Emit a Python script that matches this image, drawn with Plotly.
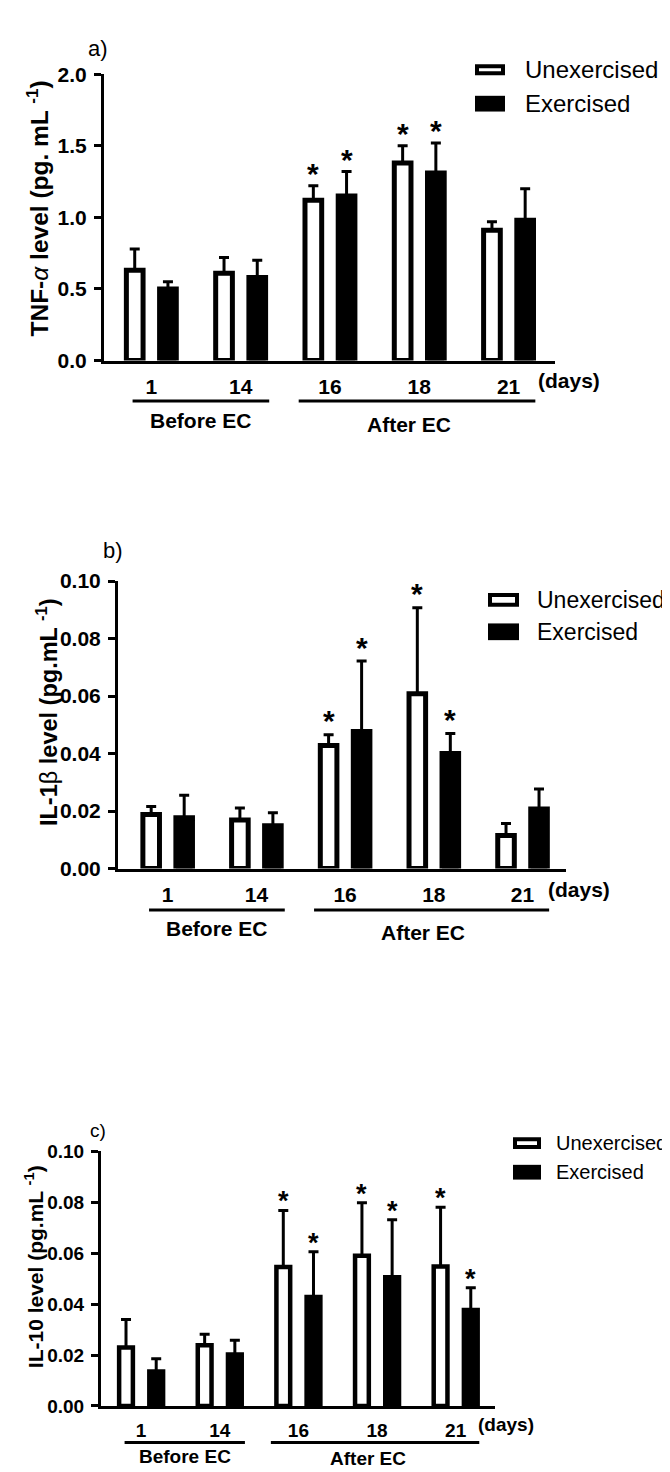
import plotly.graph_objects as go

# ---------------- data ----------------
days = ["1", "14", "16", "18", "21"]

tnf_unex = [0.63, 0.61, 1.12, 1.38, 0.91]
tnf_unex_sd = [0.15, 0.11, 0.10, 0.12, 0.06]
tnf_ex = [0.50, 0.58, 1.15, 1.31, 0.98]
tnf_ex_sd = [0.05, 0.12, 0.17, 0.21, 0.22]
tnf_unex_sig = [0, 0, 1, 1, 0]
tnf_ex_sig = [0, 0, 1, 1, 0]

il1b_unex = [0.0188, 0.0169, 0.0428, 0.0608, 0.0115]
il1b_unex_sd = [0.0028, 0.0042, 0.0037, 0.0299, 0.0042]
il1b_ex = [0.0177, 0.0149, 0.0477, 0.0400, 0.0207]
il1b_ex_sd = [0.0078, 0.0045, 0.0245, 0.0070, 0.0070]
il1b_unex_sig = [0, 0, 1, 1, 0]
il1b_ex_sig = [0, 0, 1, 1, 0]

il10_unex = [0.0229, 0.0238, 0.0545, 0.0589, 0.0547]
il10_unex_sd = [0.0110, 0.0043, 0.0222, 0.0208, 0.0233]
il10_ex = [0.0135, 0.0202, 0.0428, 0.0505, 0.0377]
il10_ex_sd = [0.0050, 0.0056, 0.0177, 0.0226, 0.0087]
il10_unex_sig = [0, 0, 1, 1, 1]
il10_ex_sig = [0, 0, 1, 1, 1]

series_names = ["Unexercised", "Exercised"]
period_labels = ["Before EC", "After EC"]
period_spans = [(-0.21, 1.32), (1.65, 4.30)]
period_label_x = [0.56, 2.88]

# ---------------- layout helpers ----------------
W, H = 670, 1472
FONT = "Liberation Sans, Arial, sans-serif"


def px_x(p):
    return p / W


def px_y(p):
    return 1 - p / H


panels = [
    dict(tag="a)", unex=tnf_unex, unex_sd=tnf_unex_sd, ex=tnf_ex, ex_sd=tnf_ex_sd,
         unex_sig=tnf_unex_sig, ex_sig=tnf_ex_sig,
         ytitle="<b>TNF-</b><i>α</i><b> level (pg. mL <sup>-1</sup>)</b>",
         yrange=[0, 2.0], dtick=0.5, fmt=".1f",
         left=96, right=547, top=55, bottom=346, xrange=[-0.53, 4.52],
         fs=21, tfs=24.5, lfs=24, tagfs=22, sfs=30, bw=0.187, off=0.186, lw=5, star_shift=12,
         tag_xy=(90, 29), title_xy=(28.5, 192),
         leg_x=467, leg_w=30, leg_u=(45, 56), leg_e=(77, 93), leg_tx=515, leg_ty=(50, 85),
         days_xy=(561, 366), line_y=387, lab_y=(407, 411)),
    dict(tag="b)", unex=il1b_unex, unex_sd=il1b_unex_sd, ex=il1b_ex, ex_sd=il1b_ex_sd,
         unex_sig=il1b_unex_sig, ex_sig=il1b_ex_sig,
         ytitle="<b>IL-1</b>β<b> level (pg.mL <sup>-1</sup>)</b>",
         yrange=[0, 0.10], dtick=0.02, fmt=".2f",
         left=110, right=558, top=570, bottom=862, xrange=[-0.56, 4.49],
         fs=21, tfs=23.5, lfs=23, tagfs=22, sfs=30, bw=0.187, off=0.186, lw=5, star_shift=14,
         tag_xy=(105, 539), title_xy=(39, 703),
         leg_x=480, leg_w=31, leg_u=(582, 596), leg_e=(613, 630), leg_tx=527, leg_ty=(589, 622),
         days_xy=(571, 883), line_y=904, lab_y=(923, 927)),
    dict(tag="c)", unex=il10_unex, unex_sd=il10_unex_sd, ex=il10_ex, ex_sd=il10_ex_sd,
         unex_sig=il10_unex_sig, ex_sig=il10_ex_sig,
         ytitle="<b>IL-10 level (pg.mL <sup>-1</sup>)</b>",
         yrange=[0, 0.10], dtick=0.02, fmt=".2f",
         left=93, right=487, top=1149, bottom=1408, xrange=[-0.51, 4.50],
         fs=19, tfs=21, lfs=20, tagfs=19, sfs=27, bw=0.175, off=0.192, lw=4.5, star_shift=9,
         tag_xy=(90, 1128), title_xy=(26, 1267),
         leg_x=505, leg_w=28, leg_u=(1135, 1147), leg_e=(1163, 1178), leg_tx=546, leg_ty=(1141, 1170),
         days_xy=(498, 1427), line_y=1445, lab_y=(1459, 1461)),
]

fig = go.Figure()
shapes = []
annotations = []
xs = list(range(len(days)))

for i, p in enumerate(panels):
    n = "" if i == 0 else str(i + 1)
    xref, yref = "x" + n, "y" + n
    bw, off, lw = p["bw"], p["off"], p["lw"]

    for name, vals, sd, sig, color, sign in [
        (series_names[0], p["unex"], p["unex_sd"], p["unex_sig"], "white", -1),
        (series_names[1], p["ex"], p["ex_sd"], p["ex_sig"], "black", 1),
    ]:
        fig.add_trace(go.Bar(
            x=xs, y=vals, name=name, xaxis=xref, yaxis=yref,
            width=bw, offset=sign * off - bw / 2,
            marker=dict(color=color, line=dict(color="black", width=lw)),
            error_y=dict(type="data", symmetric=False, array=sd, arrayminus=[0] * len(vals),
                         color="black", thickness=3, width=5),
            showlegend=False,
        ))
        for k in xs:
            if sig[k]:
                annotations.append(dict(
                    x=k + sign * off, y=vals[k] + sd[k], xref=xref, yref=yref,
                    text="<b>*</b>", showarrow=False, yanchor="middle", xanchor="center",
                    yshift=p["star_shift"], font=dict(family=FONT, size=p["sfs"], color="black")))

    axis_common = dict(showgrid=False, zeroline=False, showline=True, linecolor="black",
                       linewidth=3)
    fig.update_layout(**{
        ("xaxis" + n): dict(domain=[px_x(p["left"]), px_x(p["right"])], anchor=yref,
                            range=p["xrange"], tickvals=xs, ticktext=days, ticks="",
                            ticklabelstandoff=5,
                            tickfont=dict(family=FONT, size=p["fs"], color="black", weight="bold"),
                            **axis_common),
        ("yaxis" + n): dict(domain=[px_y(p["bottom"]), px_y(p["top"])], anchor=xref,
                            range=p["yrange"], dtick=p["dtick"], tickformat=p["fmt"],
                            ticks="outside", ticklen=7, tickwidth=3, tickcolor="black",
                            ticklabelstandoff=3,
                            tickfont=dict(family=FONT, size=p["fs"], color="black", weight="bold"),
                            **axis_common),
    })

    # panel tag
    annotations.append(dict(x=px_x(p["tag_xy"][0]), y=px_y(p["tag_xy"][1]), xref="paper", yref="paper",
                            text=p["tag"], showarrow=False, xanchor="center", yanchor="middle",
                            font=dict(family=FONT, size=p["tagfs"], color="black")))
    # y title
    annotations.append(dict(x=px_x(p["title_xy"][0]), y=px_y(p["title_xy"][1]), xref="paper", yref="paper",
                            text=p["ytitle"], showarrow=False, textangle=-90,
                            xanchor="center", yanchor="middle",
                            font=dict(family=FONT, size=p["tfs"], color="black")))
    # (days)
    annotations.append(dict(x=px_x(p["days_xy"][0]), y=px_y(p["days_xy"][1]), xref="paper", yref="paper",
                            text="<b>(days)</b>", showarrow=False, xanchor="center", yanchor="middle",
                            font=dict(family=FONT, size=p["fs"], color="black")))
    # period brackets
    for (x0, x1), lab, lx, ly in zip(period_spans, period_labels, period_label_x, p["lab_y"]):
        shapes.append(dict(type="line", xref=xref, yref="paper", x0=x0, x1=x1,
                           y0=px_y(p["line_y"]), y1=px_y(p["line_y"]),
                           line=dict(color="black", width=3)))
        annotations.append(dict(x=lx, y=px_y(ly), xref=xref, yref="paper", text="<b>" + lab + "</b>",
                                showarrow=False, xanchor="center", yanchor="middle",
                                font=dict(family=FONT, size=p["fs"], color="black")))
    # legend
    lx0, lx1 = p["leg_x"], p["leg_x"] + p["leg_w"]
    u0, u1 = p["leg_u"]
    shapes.append(dict(type="rect", xref="paper", yref="paper",
                       x0=px_x(lx0 + 2), x1=px_x(lx1 - 2), y0=px_y(u1 - 2), y1=px_y(u0 + 2),
                       fillcolor="white", line=dict(color="black", width=4)))
    e0, e1 = p["leg_e"]
    shapes.append(dict(type="rect", xref="paper", yref="paper",
                       x0=px_x(lx0), x1=px_x(lx1), y0=px_y(e1), y1=px_y(e0),
                       fillcolor="black", line=dict(width=0)))
    for name, ty in zip(series_names, p["leg_ty"]):
        annotations.append(dict(x=px_x(p["leg_tx"]), y=px_y(ty), xref="paper", yref="paper",
                                text=name, showarrow=False, xanchor="left", yanchor="middle",
                                font=dict(family=FONT, size=p["lfs"], color="black")))

fig.update_layout(
    width=W, height=H, margin=dict(l=0, r=0, t=0, b=0),
    paper_bgcolor="white", plot_bgcolor="white",
    barmode="overlay", showlegend=False,
    font=dict(family=FONT, color="black"),
    shapes=shapes, annotations=annotations,
)

fig.write_html("out.html")
